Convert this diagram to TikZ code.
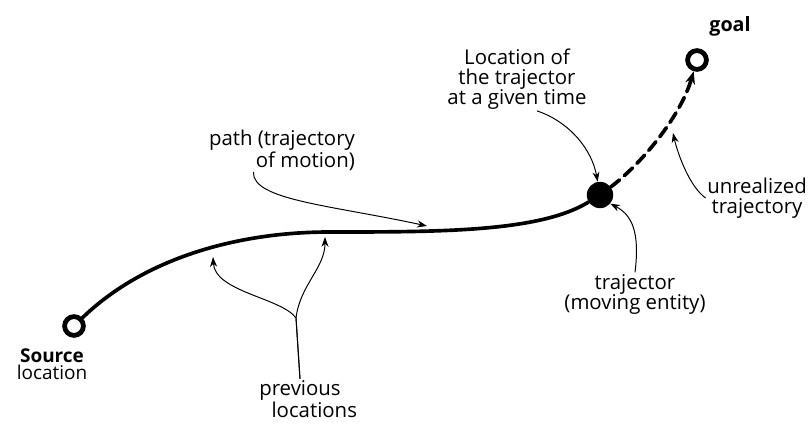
\documentclass[tikz,border=0pt]{standalone}
\usepackage{fontspec}
\setmainfont{Open Sans}
\usetikzlibrary{arrows.meta, positioning, calc}

\begin{document}
\begin{tikzpicture}[
    x=0.025cm, y=-0.025cm,
    note/.style={align=center, font=\fontsize{14.5}{14.2}\selectfont, inner sep=1pt},
    place/.style={circle, draw=black, line width=3.4pt, fill=white, minimum size=0.47cm, inner sep=0pt},
    mover/.style={circle, fill=black, minimum size=0.66cm, inner sep=0pt},
    track/.style={line width=2.6pt, line cap=round},
    pointer/.style={-{Stealth[length=7pt, width=5pt]}, line width=0.7pt}
]
    \useasboundingbox (0,0) rectangle (808,425);

    \node[place] (src) at (74,326) {};
    \node[mover] (traj) at (600,195) {};
    \node[place] (goal) at (697,60) {};

    \node[note, font=\fontsize{13.5}{12}\selectfont] (srclbl) at (52,364) {\textbf{Source}\\location};
    \node[note, font=\fontsize{14}{14}\selectfont\bfseries] (goallbl) at (730,26) {goal};
    \node[note, align=right] (pathlbl) at (282,150) {path (trajectory\\of motion)};
    \node[note] (loc) at (517,79) {Location of\\the trajector\\at a given time};
    \node[note] (unreal) at (757,198) {unrealized\\trajectory};
    \node[note] (who) at (635,294) {trajector\\(moving entity)};
    \node[note] (prev) at (300,399) {previous\\\hspace*{1.4em}locations};

    \coordinate (mid) at (330,232);
    \coordinate (prev1) at (213,257);
    \coordinate (prev2) at (325,237);
    \coordinate (fork) at (296,318);
    \coordinate (pathtip) at (427,226);
    \coordinate (gap) at (673,133);

    \draw[track] (src) .. controls (140,262) and (230,232) .. (mid)
        .. controls (440,232) and (540,232) .. (traj);
    \draw[track, dash pattern=on 8pt off 4.5pt, -{Stealth[length=9pt, width=7pt]}]
        (traj) .. controls (640,165) and (680,118) .. (goal);

    \draw[pointer] ($(loc.south)+(20,0)$) .. controls (570,122) and (592,150) .. (traj.100);
    \draw[pointer] (unreal.west) .. controls (690,187) and (678,155) .. (gap);
    \draw[pointer] (who.north) .. controls (640,232) and (632,215) .. (traj.-40);
    \draw[pointer] ($(pathlbl.south west)+(46,0)$) .. controls (252,200) and (330,205) .. (pathtip);
    \draw[pointer] (prev.north) -- (fork) .. controls (282,298) and (215,292) .. (prev1);
    \draw[pointer] (prev.north) -- (fork) .. controls (300,285) and (325,268) .. (prev2);
\end{tikzpicture}
\end{document}
